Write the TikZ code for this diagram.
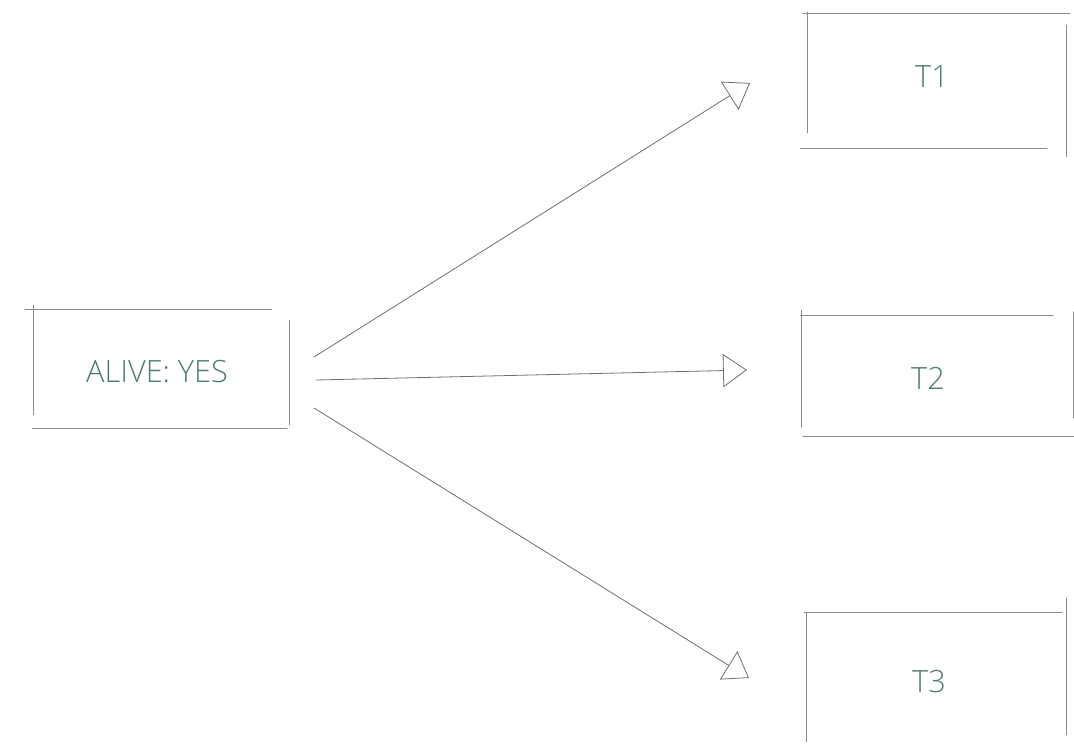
\documentclass[tikz,border=0pt]{standalone}
\usepackage{fontspec}
\newfontfamily\lblfont{Open Sans Light}
\usetikzlibrary{arrows.meta}
\definecolor{txtgreen}{HTML}{4E7D70}
\definecolor{pencil}{HTML}{8A8A8A}
\definecolor{pencildark}{HTML}{6E6E6E}
\tikzset{
  sk/.style={draw=pencil, line width=0.7pt, line cap=round},
  lbl/.style={font=\lblfont\fontsize{23}{26}\selectfont, text=txtgreen, inner sep=0pt, anchor=base},
  conn/.style={draw=pencildark, line width=0.6pt,
    -{Triangle[open, length=18pt, width=25pt, line width=0.6pt]}},
}
\begin{document}
\begin{tikzpicture}[x=0.75pt, y=-0.75pt]
\useasboundingbox (0,0) rectangle (1074,745);
% box ALIVE
\draw[sk] (25,309) -- (272,309);
\draw[sk] (33,305) -- (33,415);
\draw[sk] (32,428) -- (287,428);
\draw[sk] (289,320) -- (289,425);
\node[lbl] (alive) at (157,382) {ALIVE: YES};
% box T1
\draw[sk] (803,13) -- (1070,13);
\draw[sk] (807,12) -- (807,133);
\draw[sk] (800,148) -- (1047,148);
\draw[sk] (1066,25) -- (1066,157);
\node[lbl] (t1) at (932,88) {T1};
% box T2
\draw[sk] (800,315) -- (1053,315);
\draw[sk] (801,310) -- (801,427);
\draw[sk] (803,436) -- (1074,436);
\draw[sk] (1073,312) -- (1073,418);
\node[lbl] (t2) at (928,389) {T2};
% box T3
\draw[sk] (804,612) -- (1062,612);
\draw[sk] (806,613) -- (806,742);
\draw[sk] (1066,598) -- (1066,735);
\node[lbl] (t3) at (929,692) {T3};
% connector end points
\coordinate (s1) at (314,357);
\coordinate (e1) at (750,83);
\coordinate (s2) at (316,380);
\coordinate (e2) at (747,370);
\coordinate (s3) at (314,408);
\coordinate (e3) at (749,678);
\draw[conn] (s1) -- (e1);
\draw[conn] (s2) -- (e2);
\draw[conn] (s3) -- (e3);
\end{tikzpicture}
\end{document}
